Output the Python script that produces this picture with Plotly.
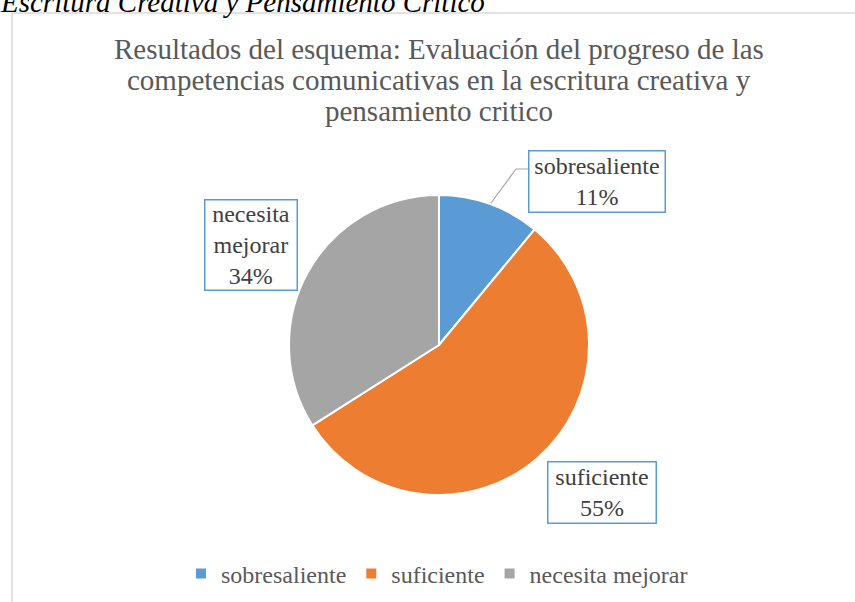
import plotly.graph_objects as go

labels = ["sobresaliente", "suficiente", "necesita mejorar"]
values = [11, 55, 34]
colors = ["#5B9BD5", "#ED7D31", "#A5A5A5"]
label_text = ["sobresaliente<br>11%", "suficiente<br>55%", "necesita<br>mejorar<br>34%"]
title_lines = [
    "Resultados del esquema: Evaluación del progreso de las",
    "competencias comunicativas en la escritura creativa y",
    "pensamiento critico",
]
heading = "Escritura Creativa y Pensamiento Crítico"

W, H = 855, 602
def px(x):
    return x / W
def py(y):
    return 1 - y / H

FONT = "Liberation Serif, Times New Roman, serif"

fig = go.Figure()
fig.add_trace(go.Pie(
    labels=labels, values=values, sort=False, direction="clockwise", rotation=0,
    marker=dict(colors=colors, line=dict(color="white", width=2)),
    textinfo="none", hoverinfo="label+percent",
    domain=dict(x=[px(289), px(589)], y=[py(495), py(195)]),
))

annotations = []
# label boxes: (centre x, centre y, width, height)
label_box = [(597, 181, 135, 60), (602, 492, 107, 60), (251, 245, 91, 89)]
for t, (cx, cy, bw, bh) in zip(label_text, label_box):
    annotations.append(dict(
        text=t, x=px(cx), y=py(cy), xref="paper", yref="paper",
        xanchor="center", yanchor="middle", showarrow=False,
        width=bw, height=bh, align="center", valign="middle",
        font=dict(family=FONT, size=24, color="#404040"),
        bordercolor="#5B9BD5", borderwidth=1.5, borderpad=0, bgcolor="white",
    ))

# title lines (tighter line spacing than plotly's default)
for i, line in enumerate(title_lines):
    base = 58 + 31 * i
    annotations.append(dict(
        text=line, x=px(439), y=py(base), xref="paper", yref="paper",
        xanchor="center", yanchor="bottom", yshift=-9, showarrow=False,
        font=dict(family=FONT, size=29, color="#595959"),
    ))

# cut-off heading above the chart
annotations.append(dict(
    text=f"<i>{heading}</i>", x=px(-2), y=py(8),
    xref="paper", yref="paper", xanchor="left", yanchor="bottom", yshift=-12,
    showarrow=False, font=dict(family=FONT, size=29, color="#000000"),
))

fig.update_layout(
    width=W, height=H,
    margin=dict(l=0, r=0, t=0, b=0),
    paper_bgcolor="white", plot_bgcolor="white",
    font=dict(family=FONT, color="#595959"),
    legend=dict(
        orientation="h", x=px(437), xanchor="center", y=py(574), yanchor="middle",
        font=dict(family=FONT, size=24, color="#595959"), traceorder="normal",
        itemwidth=30,
    ),
    annotations=annotations,
    shapes=[
        dict(type="rect", xref="paper", yref="paper", x0=px(12), x1=1.02, y0=-0.02, y1=py(13),
             line=dict(color="#D9D9D9", width=1.5), fillcolor="rgba(0,0,0,0)", layer="below"),
        dict(type="path", xref="paper", yref="paper",
             path=f"M {px(529)} {py(169)} L {px(516)} {py(169)} L {px(491)} {py(203)}",
             line=dict(color="#A6A6A6", width=1.2)),
    ],
)

fig.write_html("out.html", config={"displayModeBar": False},
               post_script="document.body.style.margin='0';document.body.style.overflow='hidden';")
